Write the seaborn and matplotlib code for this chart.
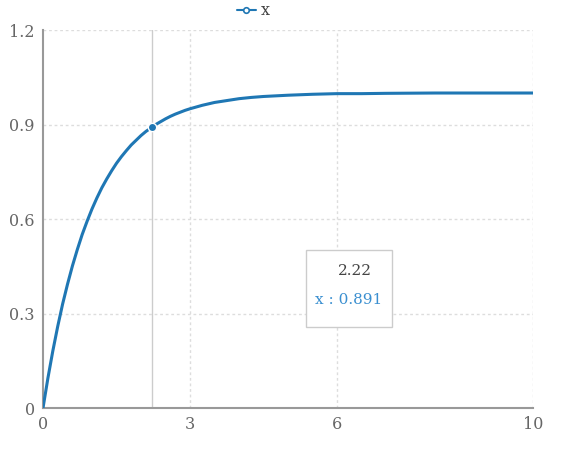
import matplotlib
matplotlib.use('Agg')
import matplotlib.pyplot as plt
from matplotlib.lines import Line2D
from matplotlib.patches import Rectangle
import seaborn as sns
import pandas as pd

# values
x_vals = [0, 0.1, 0.2, 0.3, 0.4, 0.5, 0.6, 0.7, 0.8, 0.9, 1.0, 1.1, 1.2, 1.3, 1.4,
          1.5, 1.6, 1.7, 1.8, 1.9, 2.0, 2.1, 2.22, 2.3, 2.4, 2.5, 2.6, 2.7, 2.8, 2.9,
          3.0, 3.25, 3.5, 3.75, 4.0, 4.25, 4.5, 4.75, 5.0, 5.5, 6.0, 6.5, 7.0, 8.0,
          9.0, 10.0]
y_vals = [0, 0.095, 0.181, 0.259, 0.330, 0.393, 0.451, 0.503, 0.551, 0.593, 0.632,
          0.667, 0.699, 0.727, 0.753, 0.777, 0.798, 0.817, 0.835, 0.850, 0.865,
          0.878, 0.891, 0.900, 0.909, 0.918, 0.926, 0.933, 0.939, 0.945, 0.950,
          0.961, 0.970, 0.976, 0.982, 0.986, 0.989, 0.991, 0.993, 0.996, 0.998,
          0.998, 0.999, 1.0, 1.0, 1.0]
hover_x = 2.22
hover_y = 0.891
series_name = "x"
x_ticks = [0, 3, 6, 10]
y_ticks = [0, 0.3, 0.6, 0.9, 1.2]

sns.set_style("white")
plt.rcParams['font.family'] = ['DejaVu Serif', 'DejaVu Sans']

line_color = "#1f77b4"
grid_color = "#dddddd"
axis_color = "#999999"
text_color = "#666666"

df = pd.DataFrame({"t": x_vals, series_name: y_vals})

fig = plt.figure(figsize=(5.75, 4.5), dpi=100)
ax = fig.add_axes([0.0748, 0.0933, 0.8522, 0.84])

# dotted grid
for yt in y_ticks[1:]:
    ax.axhline(yt, color=grid_color, lw=1, ls=(0, (2, 2)), zorder=0)
for xt in x_ticks[1:]:
    ax.axvline(xt, color=grid_color, lw=1, ls=(0, (2, 2)), zorder=0)

# cursor line
ax.axvline(hover_x, color="#cccccc", lw=1, zorder=1)

sns.lineplot(data=df, x="t", y=series_name, ax=ax, color=line_color,
             linewidth=2.2, zorder=3, legend=False,
             solid_joinstyle="round", solid_capstyle="round")
ax.plot([hover_x], [hover_y], marker="o", ms=6, color=line_color,
        mec="white", mew=1, zorder=4)

ax.set_xlim(0, 10)
ax.set_ylim(0, 1.2)
ax.set_xticks(x_ticks)
ax.set_yticks(y_ticks)
ax.set_xticklabels([str(v) for v in x_ticks])
ax.set_yticklabels(["0", "0.3", "0.6", "0.9", "1.2"])
ax.set_xlabel("")
ax.set_ylabel("")

for side in ["top", "right"]:
    ax.spines[side].set_visible(False)
for side in ["left", "bottom"]:
    ax.spines[side].set_color(axis_color)
    ax.spines[side].set_linewidth(1.5)
ax.tick_params(axis="both", colors=axis_color, labelcolor=text_color,
               labelsize=11.5, length=5, width=1, direction="out", pad=1)

# tooltip
ax.add_patch(Rectangle((0.537, 0.214), 0.175, 0.204, transform=ax.transAxes,
                       facecolor="white", edgecolor="#cccccc", lw=1, zorder=5))
ax.text(0.637, 0.362, f"{hover_x:.2f}", transform=ax.transAxes, ha="center",
        va="center", fontsize=11, color="#444444", zorder=6)
ax.text(0.624, 0.286, f"{series_name} : {hover_y:.3f}", transform=ax.transAxes,
        ha="center", va="center", fontsize=11, color="#3a8fd0", zorder=6)

# legend
handle = Line2D([], [], color=line_color, lw=1.5, marker="o", ms=4,
                mfc="white", mec=line_color, mew=1.2)
leg = fig.legend([handle], [series_name], loc="center", bbox_to_anchor=(0.44, 0.976),
                 frameon=False, fontsize=11.5, handlelength=1.2, handletextpad=0.3)
for t in leg.get_texts():
    t.set_color("#444444")

fig.savefig("out.png", dpi=100)
